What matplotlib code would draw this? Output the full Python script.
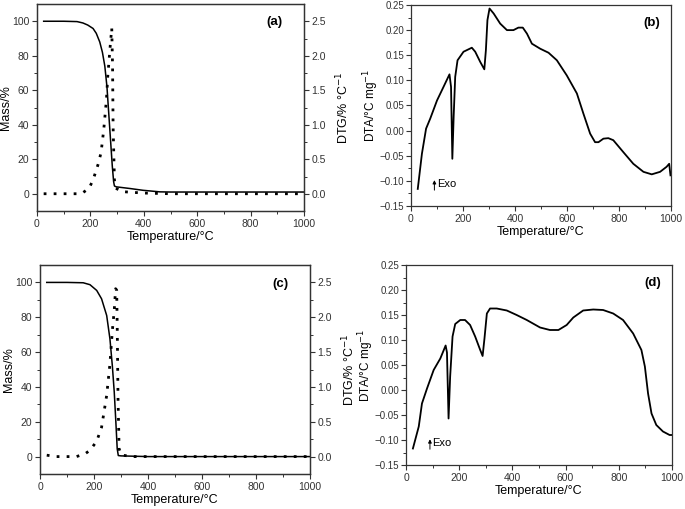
import numpy as np
import matplotlib.pyplot as plt
from matplotlib.ticker import MultipleLocator, FixedLocator

# ---- data ----
# (a) TG / DTG
tg_a_T = [25, 100, 150, 172, 190, 210, 222, 235, 245, 254, 262, 272, 282, 287, 290, 297, 350, 397, 460, 500, 600, 800, 1000]
tg_a_m = [100, 100, 99.8, 99, 97.8, 95.8, 93, 88, 82, 74, 62, 39, 16, 7, 4.5, 4, 3, 2, 1.1, 1, 1, 1, 1]
dtg_a_T = [25, 100, 150, 170, 195, 210, 230, 240, 250, 260, 265, 270, 275, 280, 283, 285, 290, 295, 320, 400, 500, 1000]
dtg_a_v = [0, 0, 0, 0.01, 0.08, 0.2, 0.44, 0.6, 0.93, 1.36, 1.7, 1.94, 2.18, 2.4, 1.85, 0.98, 0.2, 0.08, 0.03, 0.01, 0, 0]

# (b) DTA
dta_b_T = [26, 42, 58, 74, 100, 125, 148, 154, 159, 164, 170, 179, 202, 234, 247, 266, 282, 288, 294, 302,
           318, 343, 369, 394, 413, 430, 446, 465, 497, 529, 561, 599, 638, 663, 689, 708, 721, 740, 759,
           778, 817, 855, 894, 926, 958, 983, 993, 998]
dta_b_v = [-0.116, -0.046, 0.004, 0.024, 0.06, 0.087, 0.112, 0.087, -0.056, 0.027, 0.107, 0.14, 0.157, 0.165,
           0.157, 0.137, 0.122, 0.16, 0.22, 0.243, 0.233, 0.213, 0.2, 0.2, 0.205, 0.205, 0.193, 0.173, 0.163,
           0.155, 0.14, 0.11, 0.074, 0.034, -0.006, -0.023, -0.023, -0.016, -0.015, -0.019, -0.043, -0.066,
           -0.082, -0.087, -0.082, -0.072, -0.066, -0.089]

# (c) TG / DTG
tg_c_T = [25, 100, 160, 185, 210, 228, 247, 259, 268, 275, 281, 286, 290, 300, 400, 600, 1000]
tg_c_m = [100, 100, 99.8, 98.7, 95.4, 90.6, 81, 67.6, 52, 37, 19.7, 4.4, 0.6, 0.4, 0, 0, 0]
dtg_c_T = [25, 60, 100, 135, 167, 185, 210, 228, 247, 259, 268, 275, 280, 284, 286, 289, 293, 302, 350, 1000]
dtg_c_v = [0.02, 0, 0, 0, 0.04, 0.09, 0.22, 0.42, 0.88, 1.33, 1.81, 2.1, 2.41, 2.39, 1.88, 0.83, 0.11, 0.02, 0, 0]

# (d) DTA
dta_d_T = [26, 48, 60, 79, 104, 129, 149, 154, 160, 166, 175, 185, 204, 222, 241, 260, 279, 288, 295, 304,
           316, 341, 379, 416, 454, 504, 541, 573, 604, 629, 666, 704, 741, 779, 816, 854, 885, 898, 910,
           923, 941, 966, 991, 1000]
dta_d_v = [-0.117, -0.073, -0.027, 0.003, 0.04, 0.063, 0.089, 0.075, -0.057, 0.027, 0.107, 0.132, 0.14, 0.14,
           0.13, 0.107, 0.08, 0.068, 0.103, 0.153, 0.163, 0.163, 0.159, 0.15, 0.14, 0.125, 0.12, 0.12, 0.13,
           0.145, 0.159, 0.161, 0.16, 0.153, 0.14, 0.113, 0.08, 0.047, -0.007, -0.047, -0.07, -0.083, -0.09,
           -0.09]

W, H = 685, 509
fig = plt.figure(figsize=(W / 100, H / 100), dpi=100)
plt.rcParams['font.family'] = ['Liberation Sans', 'DejaVu Sans']

def px_axes(l, t, r, b):
    return fig.add_axes([l / W, 1 - b / H, (r - l) / W, (b - t) / H])

def style(ax):
    ax.tick_params(which='major', direction='out', length=3.5, width=0.8, labelsize=7.5, pad=2, colors='#333333')
    ax.tick_params(which='minor', direction='out', length=2, width=0.7, colors='#333333')
    for s in ax.spines.values():
        s.set_linewidth(0.9)
        s.set_color('#333333')

dot = (0, (1, 2.6))

def tg_panel(box, T, m, dT, dv, tag):
    ax = px_axes(*box)
    ax.plot(T, m, color='black', lw=1.1)
    ax.set_xlim(0, 1000)
    ax.set_ylim(-10, 110)
    ax.xaxis.set_major_locator(MultipleLocator(200))
    ax.xaxis.set_minor_locator(MultipleLocator(100))
    ax.yaxis.set_major_locator(FixedLocator([0, 20, 40, 60, 80, 100]))
    ax.yaxis.set_minor_locator(FixedLocator([10, 30, 50, 70, 90]))
    ax.set_xlabel('Temperature/°C', fontsize=9, labelpad=2)
    ax.set_ylabel('Mass/%', fontsize=9, labelpad=0)
    style(ax)
    ax2 = ax.twinx()
    ax2.plot(dT, dv, color='black', lw=2, linestyle=dot)
    ax2.set_ylim(-0.25, 2.75)
    ax2.yaxis.set_major_locator(FixedLocator([0, 0.5, 1.0, 1.5, 2.0, 2.5]))
    ax2.yaxis.set_minor_locator(FixedLocator([0.25, 0.75, 1.25, 1.75, 2.25]))
    ax2.yaxis.set_major_formatter(plt.FuncFormatter(lambda v, p: f'{v:.1f}'))
    ax2.set_ylabel('DTG/% °C$^{-1}$', fontsize=9, labelpad=6)
    style(ax2)
    ax.text(0.92, 0.94, tag, transform=ax.transAxes, ha='right', va='top', fontsize=9.5, fontweight='bold')
    return ax

def dta_panel(box, T, v, tag):
    ax = px_axes(*box)
    ax.plot(T, v, color='black', lw=1.3)
    ax.set_xlim(0, 1000)
    ax.set_ylim(-0.15, 0.25)
    ax.xaxis.set_major_locator(MultipleLocator(200))
    ax.xaxis.set_minor_locator(MultipleLocator(100))
    ax.yaxis.set_major_locator(FixedLocator(np.round(np.arange(-0.15, 0.26, 0.05), 2)))
    ax.yaxis.set_minor_locator(FixedLocator(np.round(np.arange(-0.125, 0.25, 0.05), 3)))
    ax.yaxis.set_major_formatter(plt.FuncFormatter(lambda y, p: f'{y:.2f}'.replace('-', '\u2212')))
    ax.set_xlabel('Temperature/°C', fontsize=9, labelpad=2)
    ax.set_ylabel('DTA/°C mg$^{-1}$', fontsize=8.5, labelpad=-1)
    style(ax)
    ax.tick_params(axis='y', which='major', labelsize=7, pad=1.5)
    ax.text(0.96, 0.94, tag, transform=ax.transAxes, ha='right', va='top', fontsize=9.5, fontweight='bold')
    ax.annotate('', xy=(90, -0.093), xytext=(90, -0.124),
                arrowprops=dict(arrowstyle='-|>', color='black', lw=0.7, mutation_scale=5))
    ax.text(100, -0.107, 'Exo', fontsize=8, va='center', ha='left')
    return ax

tg_panel((37, 4, 304, 211), tg_a_T, tg_a_m, dtg_a_T, dtg_a_v, '(a)')
dta_panel((411, 5, 671, 206), dta_b_T, dta_b_v, '(b)')
tg_panel((40, 265, 310, 474), tg_c_T, tg_c_m, dtg_c_T, dtg_c_v, '(c)')
dta_panel((406, 265, 672, 465), dta_d_T, dta_d_v, '(d)')

fig.savefig('out.png', dpi=100)
